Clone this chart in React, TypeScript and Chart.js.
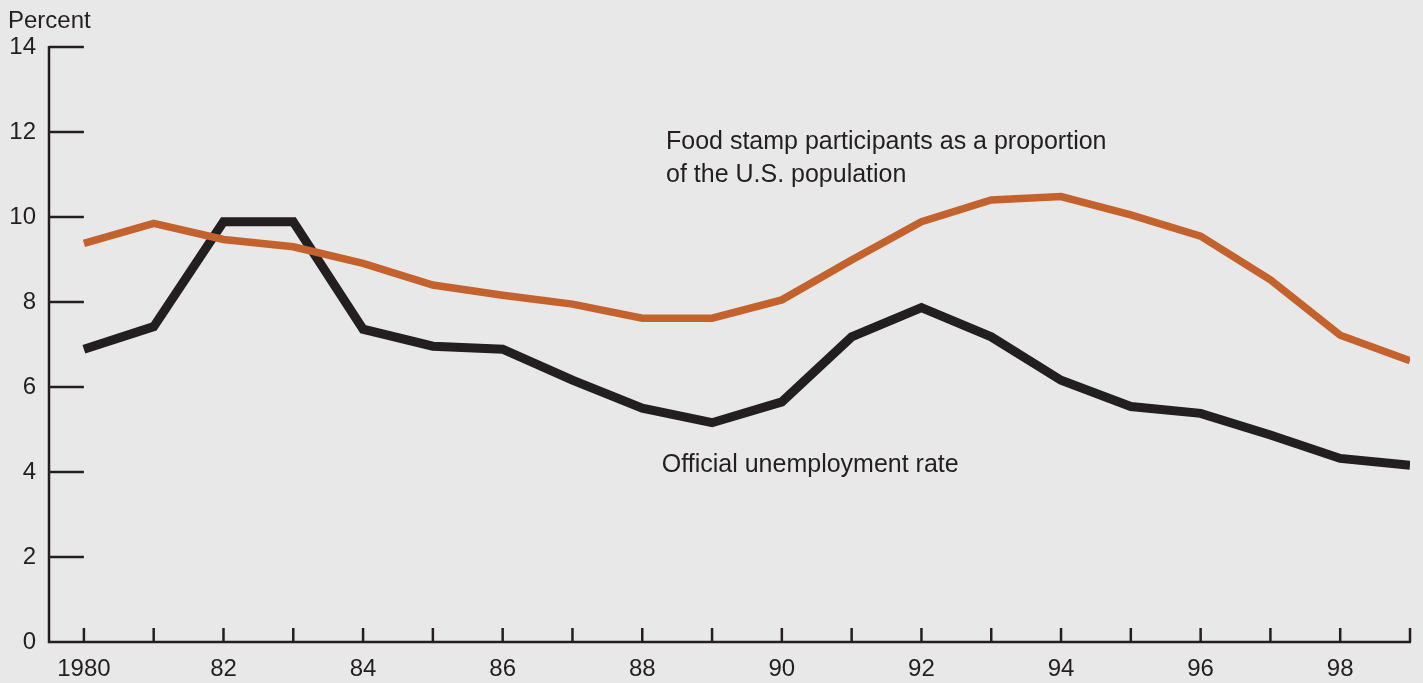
import React, { useEffect, useRef } from "react";
import { Chart, registerables } from "chart.js";

Chart.register(...registerables);

const years = [1980, 1981, 1982, 1983, 1984, 1985, 1986, 1987, 1988, 1989, 1990, 1991, 1992, 1993, 1994, 1995, 1996, 1997, 1998, 1999];
const foodStampShare = [9.38, 9.85, 9.47, 9.3, 8.91, 8.4, 8.16, 7.95, 7.62, 7.62, 8.05, 8.99, 9.89, 10.4, 10.48, 10.05, 9.55, 8.52, 7.22, 6.62];
const unemploymentRate = [6.89, 7.42, 9.89, 9.89, 7.36, 6.96, 6.89, 6.16, 5.5, 5.16, 5.65, 7.18, 7.87, 7.18, 6.16, 5.54, 5.38, 4.87, 4.32, 4.16];
const yTicks = [0, 2, 4, 6, 8, 10, 12, 14];
const yAxisTitle = "Percent";
const foodStampLabel = ["Food stamp participants as a proportion", "of the U.S. population"];
const unemploymentLabel = ["Official unemployment rate"];
// annotation anchors in data units: [year, percent]
const foodStampLabelAt = [1988.34, 11.76];
const unemploymentLabelAt = [1988.28, 4.16];

const INK = "#231f20";
const ORANGE = "#c4622d";
const BG = "#e8e8e8";
const FONT = "'Liberation Sans', Arial, Helvetica, sans-serif";

const xLabel = (v: number) => {
  if (v === years[0]) return String(v);
  if (years.includes(v) && v % 2 === 0) return String(v).slice(2);
  return "";
};

const customAxesPlugin = {
  id: "customAxes",
  beforeDraw(chart: any) {
    const { ctx, width, height } = chart;
    ctx.save();
    ctx.fillStyle = BG;
    ctx.fillRect(0, 0, width, height);
    ctx.restore();
  },
  beforeDatasetsDraw(chart: any) {
    const { ctx, chartArea } = chart;
    const xs = chart.scales.x;
    const ys = chart.scales.y;
    ctx.save();
    ctx.strokeStyle = INK;
    ctx.lineWidth = 2.5;
    ctx.lineCap = "butt";
    // axis lines
    ctx.beginPath();
    ctx.moveTo(chartArea.left, ys.getPixelForValue(14) - 1);
    ctx.lineTo(chartArea.left, chartArea.bottom);
    ctx.lineTo(xs.getPixelForValue(years[years.length - 1]) + 1, chartArea.bottom);
    ctx.stroke();
    // y tick marks (inward)
    const yTickEnd = xs.getPixelForValue(years[0]);
    for (const v of yTicks) {
      if (v === 0) continue;
      const py = ys.getPixelForValue(v);
      ctx.beginPath();
      ctx.moveTo(chartArea.left, py);
      ctx.lineTo(yTickEnd, py);
      ctx.stroke();
    }
    // x tick marks (inward)
    for (const yr of years) {
      const px = xs.getPixelForValue(yr);
      ctx.beginPath();
      ctx.moveTo(px, chartArea.bottom);
      ctx.lineTo(px, chartArea.bottom - 14);
      ctx.stroke();
    }
    ctx.restore();
  },
  afterDatasetsDraw(chart: any) {
    const { ctx, chartArea } = chart;
    const xs = chart.scales.x;
    const ys = chart.scales.y;
    ctx.save();
    ctx.fillStyle = INK;
    ctx.textBaseline = "middle";
    ctx.textAlign = "left";
    ctx.font = `24px ${FONT}`;
    ctx.fillText(yAxisTitle, chartArea.left - 41, ys.getPixelForValue(14) - 26);
    ctx.font = `25px ${FONT}`;
    const fx = xs.getPixelForValue(foodStampLabelAt[0]);
    const fy = ys.getPixelForValue(foodStampLabelAt[1]);
    foodStampLabel.forEach((t, i) => ctx.fillText(t, fx, fy + i * 33));
    const ux = xs.getPixelForValue(unemploymentLabelAt[0]);
    const uy = ys.getPixelForValue(unemploymentLabelAt[1]);
    unemploymentLabel.forEach((t, i) => ctx.fillText(t, ux, uy + i * 33));
    ctx.restore();
  },
};

export default function App() {
  const canvasRef = useRef<HTMLCanvasElement | null>(null);

  useEffect(() => {
    document.body.style.margin = "0";
    document.body.style.background = BG;
    const canvas = canvasRef.current;
    if (!canvas) return;
    const chart = new Chart(canvas, {
      type: "line",
      data: {
        datasets: [
          {
            label: "Food stamp participants as a proportion of the U.S. population",
            data: years.map((y, i) => ({ x: y, y: foodStampShare[i] })),
            borderColor: ORANGE,
            borderWidth: 7.5,
            pointRadius: 0,
            tension: 0,
            borderCapStyle: "butt",
            borderJoinStyle: "miter",
            order: 0,
          },
          {
            label: "Official unemployment rate",
            data: years.map((y, i) => ({ x: y, y: unemploymentRate[i] })),
            borderColor: INK,
            borderWidth: 9,
            pointRadius: 0,
            tension: 0,
            borderCapStyle: "butt",
            borderJoinStyle: "miter",
            order: 1,
          },
        ],
      },
      options: {
        animation: false,
        responsive: true,
        maintainAspectRatio: false,
        layout: { padding: { top: 47, right: 12, left: 0, bottom: 0 } },
        plugins: {
          legend: { display: false },
          tooltip: { enabled: false },
        },
        scales: {
          x: {
            type: "linear",
            min: years[0] - 0.5,
            max: years[years.length - 1],
            afterBuildTicks: (scale: any) => {
              scale.ticks = years.map((v) => ({ value: v }));
            },
            afterFit: (scale: any) => {
              scale.height = 41;
            },
            grid: { display: false, drawTicks: false },
            border: { display: false },
            ticks: {
              autoSkip: false,
              maxRotation: 0,
              padding: 13,
              color: INK,
              font: { family: FONT, size: 24 },
              callback: (v: any) => xLabel(Number(v)),
            },
          },
          y: {
            type: "linear",
            min: 0,
            max: 14,
            afterBuildTicks: (scale: any) => {
              scale.ticks = yTicks.map((v) => ({ value: v }));
            },
            afterFit: (scale: any) => {
              scale.width = 49;
            },
            grid: { display: false, drawTicks: false },
            border: { display: false },
            ticks: {
              padding: 13,
              color: INK,
              font: { family: FONT, size: 24 },
              callback: (v: any) => String(v),
            },
          },
        },
      },
      plugins: [customAxesPlugin],
    });
    return () => chart.destroy();
  }, []);

  return (
    <div style={{ position: "fixed", left: 0, top: 0, width: 1423, height: 683, background: BG }}>
      <canvas ref={canvasRef} />
    </div>
  );
}
